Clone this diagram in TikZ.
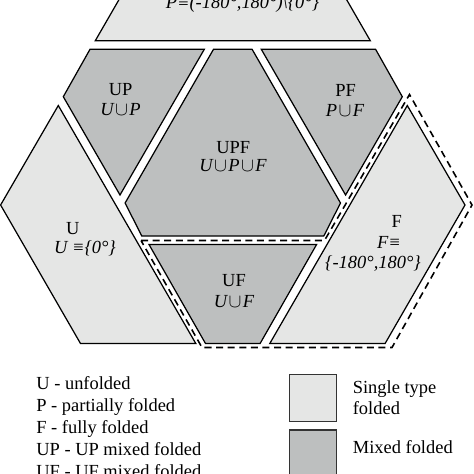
\documentclass[tikz,border=0pt]{standalone}
\usepackage{fontspec}
\setmainfont{Liberation Serif}
\definecolor{lightfold}{RGB}{229,230,229}
\definecolor{darkfold}{RGB}{189,191,191}
\newcommand{\unn}{\kern0.8pt$\cup$\kern0.8pt}
\begin{document}
\begin{tikzpicture}[x=0.02cm, y=-0.02cm,
    single/.style={draw, line width=0.7pt, fill=lightfold, line join=miter},
    mixed/.style={draw, line width=0.7pt, fill=darkfold, line join=miter},
    fence/.style={draw, line width=0.9pt, dash pattern=on 4pt off 2.6pt, line join=miter},
    lbl/.style={inner sep=0pt, font=\fontsize{10.5}{12}\selectfont},
    mlbl/.style={inner sep=0pt, font=\fontsize{10.5}{12}\selectfont\itshape},
    key/.style={inner sep=0pt, anchor=base west, font=\fontsize{10.5}{12}\selectfont}]

            \useasboundingbox (0, 0) rectangle (474, 474);
            \clip (0, 0) rectangle (474, 474);

            % single type regions
            \draw[single] (95.3, 40.7) -- (370.3, 40.7) -- (329.5, -30) -- (136.1, -30) -- cycle;
            \draw[single] (58.3, 105.5) -- (195.8, 343.5) -- (80.5, 343.5) -- (0.6, 205) -- cycle;
            \draw[single] (407.3, 105.5) -- (465, 205) -- (385.1, 343.5) -- (269.8, 343.5) -- cycle;

            % mixed regions
            \draw[mixed] (90, 49.3) -- (204.3, 49.3) -- (120, 195) -- (63.3, 96.7) -- cycle;
            \draw[mixed] (261.3, 49.3) -- (375.6, 49.3) -- (402.3, 96.7) -- (345.6, 195) -- cycle;
            \draw[mixed] (213.5, 49.3) -- (252.1, 49.3) -- (340.5, 203) -- (323.8, 236) -- (141.8, 236) -- (125.1, 203) -- cycle;
            \draw[mixed] (149, 244.5) -- (316.6, 244.5) -- (260.1, 343.5) -- (205.5, 343.5) -- cycle;

            % dashed outline round F and UF
            \draw[fence] (141, 240.5) -- (324.5, 240.5) -- (409.5, 94.5) -- (472, 205) -- (392, 347.5) -- (202, 347.5) -- cycle;

            % region labels
            \node[mlbl] at (242.5, 4) (pset) {P≡(-180°,180°)\textbackslash\{0°\}};
            \node[lbl] at (120.7, 90) (up) {UP};
            \node[mlbl] at (120.5, 110) (upset) {U\unn P};
            \node[lbl] at (345.7, 90) (pf) {PF};
            \node[mlbl] at (345, 110) (pfset) {P\unn F};
            \node[lbl] at (233.3, 147.5) (upf) {UPF};
            \node[mlbl] at (233, 165.5) (upfset) {U\unn P\unn F};
            \node[lbl] at (72.7, 229) (u) {U};
            \node[mlbl] at (85, 248) (uset) {U ≡\{0°\}};
            \node[lbl] at (396.7, 221) (f) {F};
            \node[mlbl] at (389, 242.5) (fset) {F≡};
            \node[mlbl] at (373, 264) (frange) {\{-180°,180°\}};
            \node[lbl] at (234, 281) (uf) {UF};
            \node[mlbl] at (234, 301.5) (ufset) {U\unn F};

            % legend
            \node[key] at (36, 389.3) (ku) {U - unfolded};
            \node[key] at (36, 411.3) (kp) {P - partially folded};
            \node[key] at (36, 433.3) (kf) {F - fully folded};
            \node[key] at (36, 455.3) (kup) {UP - UP mixed folded};
            \node[key] at (36, 477.3) (kuf) {UF - UF mixed folded};

            \draw[single, draw=black!80] (289.3, 374.3) rectangle (336.7, 421.7);
            \draw[mixed, draw=black!80] (289.3, 430) rectangle (336.7, 490);
            \node[key] at (352.5, 393.3) (ksingle) {Single type};
            \node[key] at (352.5, 414.3) (ksingleb) {folded};
            \node[key] at (352.5, 453.3) (kmixed) {Mixed folded};
        \end{tikzpicture}
\end{document}
